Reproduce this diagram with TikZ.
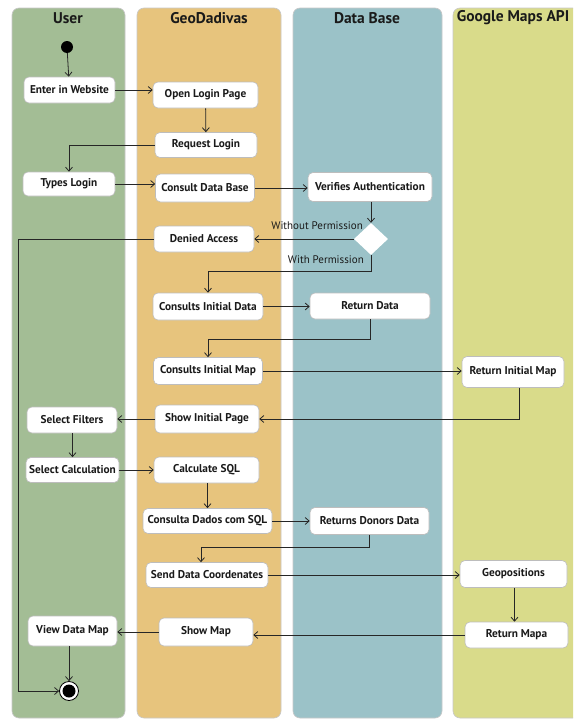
\documentclass[tikz,border=0pt]{standalone}
\usepackage{fontspec}
\setmainfont{PT Sans}
\usetikzlibrary{shapes.geometric,arrows.meta}
\definecolor{laneuser}{HTML}{A3BD95}
\definecolor{lanegeo}{HTML}{E7C47D}
\definecolor{lanedb}{HTML}{9BC2C8}
\definecolor{lanegm}{HTML}{D9DB8A}
\definecolor{laneborder}{HTML}{C8C8C8}
\definecolor{boxborder}{HTML}{BDBDBD}
\definecolor{txt}{HTML}{1A1A1A}
\tikzset{
  lane/.style={draw=laneborder, line width=0.6pt, rounded corners=7pt},
  lanetitle/.style={font=\bfseries\fontsize{15.5}{17}\selectfont, text=txt, inner sep=0pt},
  act/.style={draw=boxborder, line width=0.6pt, fill=white, rounded corners=5pt,
    inner sep=0pt, font=\bfseries\fontsize{11.3}{13}\selectfont, text=txt},
  guard/.style={font=\fontsize{11}{13}\selectfont, text=txt, inner sep=0pt},
  flow/.style={draw=black!85, line width=0.8pt, -{Straight Barb[length=4pt,width=7pt]}},
}
\begin{document}
\begin{tikzpicture}[x=1pt,y=-1pt]
\useasboundingbox (0,0) rectangle (573,720);
\clip (0,0) rectangle (573,720);
\fill[white] (0,0) rectangle (573,720);
% lanes
\path[lane, fill=laneuser] (12,8) rectangle (125,718);
\path[lane, fill=lanegeo] (137,8) rectangle (281,718);
\path[lane, fill=lanedb] (293,8) rectangle (442,718);
\path[lane, fill=lanegm] (453,8) rectangle (600,718);
\node[lanetitle] (tuser) at (68,18) {User};
\node[lanetitle] (tgeo) at (209,18) {GeoDadivas};
\node[lanetitle] (tdb) at (367,18) {Data Base};
\node[lanetitle] (tgm) at (513,18) {Google Maps API};
% start / end
\node[circle, fill=black, minimum size=12pt, inner sep=0pt] (start) at (67,47) {};
\node[circle, draw=black, line width=0.8pt, fill=white, minimum size=19pt, inner sep=0pt] (end) at (69,691) {};
\node[circle, fill=black, minimum size=13pt, inner sep=0pt] (endin) at (69,691) {};
% activities
\node[act, minimum width=91pt, minimum height=26pt] (enter) at (69.5,90) {Enter in Website};
\node[act, minimum width=105pt, minimum height=26pt] (openlogin) at (205.5,95) {Open Login Page};
\node[act, minimum width=102pt, minimum height=25pt] (reqlogin) at (206,145) {Request Login};
\node[act, minimum width=92pt, minimum height=24pt] (types) at (69,184) {Types Login};
\node[act, minimum width=99pt, minimum height=28pt] (consult) at (205,188) {Consult Data Base};
\node[act, minimum width=124pt, minimum height=29pt] (verif) at (370,187) {Verifies Authentication};
\node[diamond, fill=white, minimum width=34pt, minimum height=32pt, inner sep=0pt] (dec) at (371,239) {};
\node[act, minimum width=100pt, minimum height=26pt] (denied) at (204,239) {Denied Access};
\node[act, minimum width=110pt, minimum height=27pt] (cidata) at (208,306.5) {Consults Initial Data};
\node[act, minimum width=120pt, minimum height=26pt] (retdata) at (370,306) {Return Data};
\node[act, minimum width=109pt, minimum height=27pt] (cimap) at (208,371) {Consults Initial Map};
\node[act, minimum width=102pt, minimum height=31pt] (retimap) at (513,372) {Return Initial Map};
\node[act, minimum width=104pt, minimum height=28pt] (showip) at (207,419) {Show Initial Page};
\node[act, minimum width=90pt, minimum height=26pt] (selfil) at (72,420) {Select Filters};
\node[act, minimum width=93pt, minimum height=25pt] (selcalc) at (72.5,470) {Select Calculation};
\node[act, minimum width=105pt, minimum height=26pt] (calcsql) at (206.5,470) {Calculate SQL};
\node[act, minimum width=129pt, minimum height=25pt] (consdados) at (207.5,521) {Consulta Dados com SQL};
\node[act, minimum width=119pt, minimum height=27pt] (retdonors) at (369.5,521) {Returns Donors Data};
\node[act, minimum width=122pt, minimum height=25pt] (senddata) at (207,575) {Send Data Coordenates};
\node[act, minimum width=107pt, minimum height=27pt] (geopos) at (513.5,574) {Geopositions};
\node[act, minimum width=103pt, minimum height=26pt] (retmapa) at (516.5,635) {Return Mapa};
\node[act, minimum width=94pt, minimum height=28pt] (showmap) at (206,632) {Show Map};
\node[act, minimum width=89pt, minimum height=30pt] (viewmap) at (72.5,631) {View Data Map};
% guards
\node[guard, anchor=east] (gwithout) at (363,226) {Without Permission};
\node[guard, anchor=east] (gwith) at (364,260) {With Permission};
% flows
\draw[flow] (start) -- (enter);
\draw[flow] (enter.east) -- (enter.east -| openlogin.west);
\draw[flow] (openlogin) -- (reqlogin);
\draw[flow] (reqlogin.west) -| (types.north);
\draw[flow] (types.east) -- (types.east -| consult.west);
\draw[flow] (consult.east) -- (consult.east -| verif.west);
\draw[flow] (verif.south -| dec.north) -- (dec.north);
\draw[flow] (dec.west) -- (dec.west -| denied.east);
\draw[flow] (dec.south) -- ++(0,16) -| (cidata.north);
\draw[flow] (cidata.east) -- (cidata.east -| retdata.west);
\draw[flow] (retdata.south) -- ++(0,20) -| (cimap.north);
\draw[flow] (cimap.east) -- (cimap.east -| retimap.west);
\draw[flow] ([xshift=6pt]retimap.south) |- (showip.east);
\draw[flow] (showip.west) -- (showip.west -| selfil.east);
\draw[flow] (selfil.south -| selcalc.north) -- (selcalc.north);
\draw[flow] (selcalc.east) -- (selcalc.east -| calcsql.west);
\draw[flow] (calcsql.south -| consdados.north) -- (consdados.north);
\draw[flow] (consdados.east) -- (consdados.east -| retdonors.west);
\draw[flow] (retdonors.south) -- ++(0,13) -| ([xshift=-6pt]senddata.north);
\draw[flow] (senddata.east) -- (senddata.east -| geopos.west);
\draw[flow] ([xshift=1pt]geopos.south) -- ([xshift=1pt]geopos.south |- retmapa.north);
\draw[flow] (retmapa.west) -- (retmapa.west -| showmap.east);
\draw[flow] (showmap.west) -- (showmap.west -| viewmap.east);
\draw[flow] (viewmap.south -| end.north) -- (end.north);
\coordinate (rail) at (18,239);
\draw[flow] (denied.west) -- (rail) |- (end.west);
\end{tikzpicture}
\end{document}
